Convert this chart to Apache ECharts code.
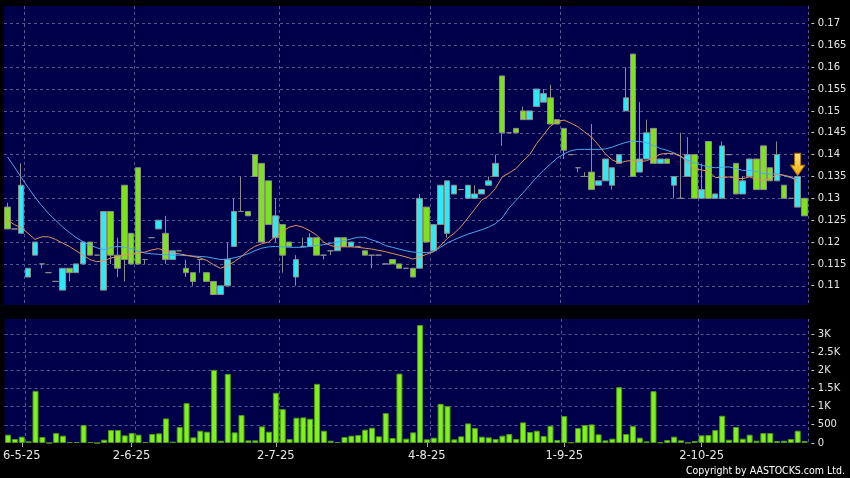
<!DOCTYPE html>
<html>
<head>
<meta charset="utf-8">
<title>Candlestick chart</title>
<script src="https://cdn.jsdelivr.net/npm/echarts@6/dist/echarts.min.js"></script>
<style>
html, body { margin: 0; padding: 0; background: #000; }
#chart { width: 850px; height: 478px; }
</style>
</head>
<body>
<div id="chart"></div>
<script>
// daily prices, one entry per trading day (cyan = up day, green = down day)
const opens = [
    0.128, 0.123, 0.122, 0.112, 0.117, 0.115, 0.113, 0.111, 0.109, 0.114,
    0.113, 0.115, 0.120, 0.117, 0.109, 0.127, 0.117, 0.133, 0.122, 0.137,
    0.116, 0.121, 0.123, 0.122, 0.116, 0.118, 0.114, 0.113, 0.116, 0.113,
    0.111, 0.108, 0.110, 0.119, 0.127, 0.127, 0.140, 0.138, 0.134, 0.121,
    0.124, 0.120, 0.112, 0.119, 0.119, 0.121, 0.117, 0.118, 0.118, 0.121,
    0.119, 0.119, 0.118, 0.117, 0.117, 0.115, 0.116, 0.115, 0.114, 0.114,
    0.114, 0.128, 0.118, 0.124, 0.122, 0.131, 0.132, 0.130, 0.130, 0.131,
    0.133, 0.135, 0.158, 0.145, 0.146, 0.150, 0.148, 0.151, 0.152, 0.153,
    0.148, 0.146, 0.140, 0.137, 0.135, 0.136, 0.133, 0.134, 0.133, 0.138,
    0.150, 0.163, 0.136, 0.139, 0.146, 0.138, 0.139, 0.133, 0.130, 0.135,
    0.140, 0.130, 0.143, 0.130, 0.130, 0.140, 0.138, 0.131, 0.135, 0.139,
    0.142, 0.137, 0.134, 0.133, 0.130, 0.128, 0.130
];
const closes = [
    0.123, 0.123, 0.133, 0.114, 0.120, 0.115, 0.113, 0.111, 0.114, 0.113,
    0.115, 0.120, 0.117, 0.117, 0.127, 0.117, 0.114, 0.116, 0.115, 0.115,
    0.116, 0.121, 0.125, 0.116, 0.118, 0.118, 0.113, 0.111, 0.116, 0.111,
    0.108, 0.110, 0.116, 0.127, 0.127, 0.126, 0.135, 0.120, 0.124, 0.126,
    0.117, 0.119, 0.116, 0.119, 0.121, 0.117, 0.117, 0.118, 0.121, 0.119,
    0.120, 0.119, 0.117, 0.117, 0.117, 0.115, 0.115, 0.114, 0.114, 0.112,
    0.130, 0.120, 0.124, 0.133, 0.134, 0.133, 0.132, 0.133, 0.131, 0.132,
    0.134, 0.138, 0.145, 0.145, 0.145, 0.148, 0.150, 0.155, 0.154, 0.147,
    0.147, 0.141, 0.140, 0.137, 0.135, 0.132, 0.134, 0.139, 0.137, 0.140,
    0.153, 0.135, 0.139, 0.145, 0.138, 0.139, 0.138, 0.135, 0.130, 0.140,
    0.130, 0.132, 0.130, 0.131, 0.142, 0.140, 0.131, 0.134, 0.139, 0.132,
    0.132, 0.134, 0.140, 0.130, 0.130, 0.135, 0.126
];
const lows = [
    0.123, 0.123, 0.122, 0.112, 0.117, 0.114, 0.113, 0.111, 0.109, 0.111,
    0.113, 0.115, 0.117, 0.117, 0.109, 0.115, 0.112, 0.111, 0.115, 0.115,
    0.115, 0.121, 0.123, 0.115, 0.116, 0.118, 0.112, 0.110, 0.113, 0.111,
    0.108, 0.108, 0.110, 0.119, 0.127, 0.126, 0.135, 0.120, 0.124, 0.120,
    0.113, 0.119, 0.110, 0.119, 0.119, 0.117, 0.116, 0.117, 0.118, 0.119,
    0.119, 0.119, 0.117, 0.114, 0.117, 0.115, 0.115, 0.114, 0.114, 0.112,
    0.114, 0.120, 0.118, 0.124, 0.121, 0.131, 0.132, 0.130, 0.130, 0.131,
    0.133, 0.135, 0.142, 0.145, 0.145, 0.148, 0.148, 0.151, 0.152, 0.147,
    0.147, 0.139, 0.140, 0.136, 0.135, 0.132, 0.133, 0.134, 0.132, 0.138,
    0.150, 0.135, 0.136, 0.139, 0.138, 0.138, 0.138, 0.130, 0.130, 0.135,
    0.130, 0.130, 0.130, 0.130, 0.130, 0.140, 0.131, 0.131, 0.135, 0.132,
    0.132, 0.134, 0.134, 0.130, 0.130, 0.128, 0.126
];
const highs = [
    0.129, 0.123, 0.138, 0.114, 0.120, 0.115, 0.113, 0.111, 0.114, 0.114,
    0.115, 0.120, 0.120, 0.117, 0.127, 0.127, 0.121, 0.133, 0.122, 0.137,
    0.116, 0.121, 0.125, 0.126, 0.118, 0.118, 0.116, 0.113, 0.116, 0.113,
    0.111, 0.110, 0.120, 0.130, 0.135, 0.127, 0.140, 0.138, 0.134, 0.130,
    0.124, 0.120, 0.117, 0.121, 0.122, 0.121, 0.117, 0.118, 0.121, 0.121,
    0.120, 0.119, 0.118, 0.117, 0.117, 0.115, 0.116, 0.115, 0.114, 0.114,
    0.131, 0.128, 0.124, 0.133, 0.134, 0.133, 0.132, 0.133, 0.133, 0.132,
    0.135, 0.140, 0.158, 0.145, 0.146, 0.151, 0.150, 0.155, 0.155, 0.156,
    0.148, 0.146, 0.140, 0.137, 0.136, 0.147, 0.134, 0.139, 0.137, 0.140,
    0.160, 0.163, 0.152, 0.148, 0.146, 0.139, 0.139, 0.135, 0.145, 0.144,
    0.140, 0.138, 0.143, 0.131, 0.143, 0.140, 0.138, 0.135, 0.139, 0.139,
    0.142, 0.137, 0.143, 0.133, 0.130, 0.135, 0.130
];
const volumes = [
    229, 110, 174, 46, 1435, 165, 0, 274, 201, 27,
    27, 494, 27, 0, 91, 356, 356, 210, 274, 229,
    27, 247, 265, 676, 37, 439, 1097, 155, 338, 311,
    2011, 64, 1901, 293, 768, 73, 73, 457, 311, 1380,
    932, 110, 695, 704, 667, 1627, 338, 64, 27, 165,
    201, 219, 366, 420, 183, 823, 137, 1910, 119, 293,
    3245, 101, 146, 1079, 1015, 101, 183, 539, 411, 174,
    155, 110, 201, 247, 110, 567, 302, 338, 192, 475,
    82, 740, 18, 411, 494, 512, 238, 73, 119, 1536,
    247, 466, 146, 46, 1426, 18, 82, 174, 73, 9,
    55, 210, 219, 356, 750, 91, 439, 119, 229, 64,
    274, 274, 55, 64, 110, 338, 55
];
// moving averages as drawn (short = orange, long = blue)
const maShort = [
    0.1250, 0.1240, 0.1233, 0.1220, 0.1206, 0.1212, 0.1212, 0.1206, 0.1198, 0.1190,
    0.1180, 0.1170, 0.1160, 0.1155, 0.1157, 0.1163, 0.1167, 0.1170, 0.1172, 0.1175,
    0.1177, 0.1182, 0.1185, 0.1180, 0.1175, 0.1173, 0.1170, 0.1167, 0.1164, 0.1158,
    0.1148, 0.1140, 0.1146, 0.1155, 0.1166, 0.1180, 0.1190, 0.1196, 0.1200, 0.1212,
    0.1224, 0.1234, 0.1238, 0.1234, 0.1226, 0.1216, 0.1200, 0.1192, 0.1189, 0.1189,
    0.1189, 0.1188, 0.1186, 0.1184, 0.1181, 0.1178, 0.1174, 0.1170, 0.1166, 0.1161,
    0.1166, 0.1172, 0.1178, 0.1192, 0.1208, 0.1220, 0.1235, 0.1255, 0.1275, 0.1296,
    0.1305, 0.1322, 0.1349, 0.1358, 0.1368, 0.1385, 0.1400, 0.1425, 0.1445, 0.1465,
    0.1476, 0.1479, 0.1472, 0.1464, 0.1452, 0.1440, 0.1422, 0.1402, 0.1388, 0.1381,
    0.1385, 0.1387, 0.1384, 0.1386, 0.1392, 0.1401, 0.1403, 0.1402, 0.1396, 0.1382,
    0.1368, 0.1365, 0.1362, 0.1348, 0.1347, 0.1349, 0.1346, 0.1345, 0.1349, 0.1343,
    0.1341, 0.1345, 0.1355, 0.1353, 0.1349, 0.1338
];
const maLong = [
    0.1395, 0.1372, 0.1348, 0.1325, 0.1303, 0.1283, 0.1265, 0.1250, 0.1235, 0.1222,
    0.1210, 0.1201, 0.1193, 0.1187, 0.1182, 0.1187, 0.1190, 0.1188, 0.1185, 0.1179,
    0.1175, 0.1173, 0.1172, 0.1171, 0.1170, 0.1170, 0.1169, 0.1168, 0.1167, 0.1166,
    0.1163, 0.1160, 0.1161, 0.1164, 0.1168, 0.1173, 0.1180, 0.1186, 0.1189, 0.1190,
    0.1189, 0.1188, 0.1188, 0.1188, 0.1190, 0.1192, 0.1194, 0.1197, 0.1200, 0.1203,
    0.1207, 0.1211, 0.1211, 0.1205, 0.1200, 0.1192, 0.1188, 0.1184, 0.1180, 0.1177,
    0.1176, 0.1176, 0.1178, 0.1188, 0.1198, 0.1205, 0.1212, 0.1218, 0.1223, 0.1228,
    0.1234, 0.1242, 0.1255, 0.1278, 0.1295, 0.1312, 0.1330, 0.1348, 0.1364, 0.1378,
    0.1392, 0.1402, 0.1409, 0.1412, 0.1412, 0.1412, 0.1412, 0.1413, 0.1417, 0.1423,
    0.1428, 0.1431, 0.1430, 0.1427, 0.1421, 0.1414, 0.1410, 0.1404, 0.1396, 0.1387,
    0.1381, 0.1376, 0.1372, 0.1370, 0.1371, 0.1372, 0.1368, 0.1364, 0.1364, 0.1361,
    0.1357, 0.1356, 0.1356, 0.1352, 0.1347, 0.1345
];
// x-axis date labels and where the month grid lines fall
const tickIdx = [2, 18, 39, 61, 81, 101];
const tickText = ['6-5-25', '2-6-25', '2-7-25', '4-8-25', '1-9-25', '2-10-25'];
const gridIdx = [3, 19, 40, 62, 81, 101];
const arrowIdx = 115;

const days = opens.map((o, i) => String(i));
const candles = opens.map((o, i) => [o, closes[i], lows[i], highs[i]]);

const navy = '#00004a';
const gridLine = { color: '#55558f', type: [3, 3], width: 1 };
const font = 'DejaVu Sans';

const chart = echarts.init(document.getElementById('chart'));

chart.setOption({
    backgroundColor: '#000',
    animation: false,
    grid: [
        { left: 4, top: 6, width: 804, height: 299, show: true, backgroundColor: navy, borderWidth: 0 },
        { left: 4, top: 319, width: 804, height: 124, show: true, backgroundColor: navy, borderWidth: 0 }
    ],
    xAxis: [
        {
            type: 'category', gridIndex: 0, data: days, boundaryGap: true,
            axisLine: { show: false }, axisTick: { show: false }, axisLabel: { show: false },
            splitLine: { show: true, interval: (i) => gridIdx.includes(i), lineStyle: gridLine }
        },
        {
            type: 'category', gridIndex: 1, data: days, boundaryGap: true,
            axisLine: { show: false },
            axisTick: {
                show: true, alignWithLabel: true, length: 4,
                interval: (i) => tickIdx.includes(i),
                lineStyle: { color: '#aaaaaa' }
            },
            axisLabel: {
                interval: (i) => tickIdx.includes(i),
                formatter: (v, i) => tickText[tickIdx.indexOf(i)] || '',
                color: '#e6e6e6', fontFamily: font, fontSize: 11.5, margin: 7
            },
            splitLine: { show: true, interval: (i) => gridIdx.includes(i), lineStyle: gridLine }
        }
    ],
    yAxis: [
        {
            type: 'value', gridIndex: 0, position: 'right', scale: true,
            min: 0.1056, max: 0.174, minInterval: 0.005, maxInterval: 0.005, splitNumber: 14,
            axisLine: { show: false }, axisTick: { show: false },
            axisLabel: {
                showMinLabel: false, showMaxLabel: false, margin: 3,
                formatter: (v) => '- ' + String(Math.round(v * 1000) / 1000),
                color: '#e6e6e6', fontFamily: font, fontSize: 10
            },
            splitLine: { show: true, showMinLine: false, showMaxLine: false, lineStyle: gridLine }
        },
        {
            type: 'value', gridIndex: 1, position: 'right',
            min: 0, max: 3412, interval: 500,
            axisLine: { show: false }, axisTick: { show: false },
            axisLabel: {
                showMaxLabel: false, margin: 3,
                formatter: (v) => '- ' + (v >= 1000 ? (v / 1000) + 'K' : String(v)),
                color: '#e6e6e6', fontFamily: font, fontSize: 10
            },
            splitLine: { show: true, showMinLine: false, showMaxLine: false, lineStyle: gridLine }
        }
    ],
    series: [
        {
            type: 'candlestick', xAxisIndex: 0, yAxisIndex: 0,
            data: candles, barWidth: 6,
            itemStyle: {
                color: '#2ee8f4', color0: '#7ee11e',
                borderColor: '#8c8c8c', borderColor0: '#8c8c8c', borderWidth: 1
            },
            markPoint: {
                symbol: 'path://M4,0 L10,0 L10,12 L14,12 L7,22 L0,12 L4,12 Z',
                symbolSize: [14, 22],
                symbolOffset: [0, -12],
                label: { show: false },
                itemStyle: {
                    color: new echarts.graphic.LinearGradient(0, 0, 0, 1, [
                        { offset: 0, color: '#ffe680' },
                        { offset: 1, color: '#f2a900' }
                    ]),
                    borderColor: '#b87a00', borderWidth: 1
                },
                data: [{ coord: [arrowIdx, highs[arrowIdx]] }]
            }
        },
        {
            type: 'line', xAxisIndex: 0, yAxisIndex: 0, data: maLong,
            symbol: 'none', lineStyle: { color: '#4aa8ee', width: 1 }
        },
        {
            type: 'line', xAxisIndex: 0, yAxisIndex: 0, data: maShort,
            symbol: 'none', lineStyle: { color: '#e0925e', width: 1 }
        },
        {
            type: 'bar', xAxisIndex: 1, yAxisIndex: 1, data: volumes, barWidth: 6,
            itemStyle: { color: '#80f020', borderColor: '#4f9a16', borderWidth: 1 }
        }
    ],
    graphic: [
        {
            type: 'text', right: 5, top: 466,
            style: {
                text: 'Copyright by AASTOCKS.com Ltd.',
                fill: '#ffffff', font: '10.5px "DejaVu Sans Condensed", "DejaVu Sans"'
            }
        }
    ]
});
</script>
</body>
</html>
